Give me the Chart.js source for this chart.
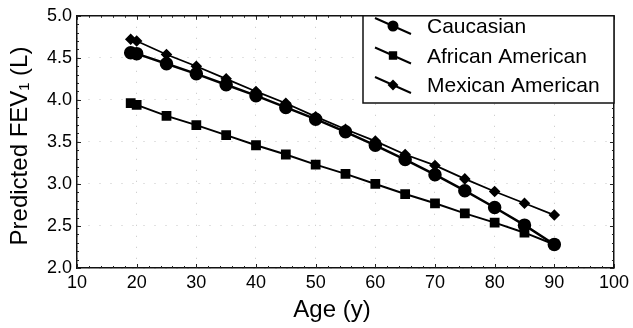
<!DOCTYPE html>
<html lang="en">
<head>
    <meta charset="UTF-8">
    <title>Predicted FEV1 by Age</title>
    <script src="https://cdn.jsdelivr.net/npm/chart.js"></script>
    <style>
        html, body { margin: 0; padding: 0; background: #fff; }
        #wrap { width: 633px; height: 328px; }
    </style>
</head>
<body>
    <div id="wrap"><canvas id="fevChart"></canvas></div>

    <script>
        const ages = [19, 20, 25, 30, 35, 40, 45, 50, 55, 60, 65, 70, 75, 80, 85, 90];
        const caucasian = [4.56, 4.55, 4.43, 4.31, 4.18, 4.05, 3.91, 3.77, 3.62, 3.46, 3.29, 3.11, 2.92, 2.72, 2.51, 2.28];
        const africanAmerican = [3.96, 3.94, 3.81, 3.70, 3.58, 3.46, 3.35, 3.23, 3.12, 3.00, 2.88, 2.77, 2.65, 2.54, 2.42, 2.28];
        const mexicanAmerican = [4.72, 4.70, 4.54, 4.40, 4.25, 4.10, 3.96, 3.80, 3.65, 3.51, 3.35, 3.22, 3.06, 2.91, 2.77, 2.63];
        const seriesNames = ['Caucasian', 'African American', 'Mexican American'];
        const xTitle = 'Age (y)';
        const yTitle = 'Predicted FEV\u2081 (L)';

        const FONT = '"Liberation Sans", Arial, Helvetica, sans-serif';

        function toPoints(values) {
            return values.map((v, i) => ({ x: ages[i], y: v }));
        }

        // legend drawn inside the plot, with the sloped line through the marker
        const insideLegend = {
            id: 'insideLegend',
            afterDraw(chart) {
                const ctx = chart.ctx;
                const area = chart.chartArea;
                const left = 363, top = area.top, right = area.right, bottom = 103;
                const legendRadius = [4.5, 4.5, 4];
                ctx.save();
                ctx.fillStyle = '#fff';
                ctx.fillRect(left, top, right - left, bottom - top);
                ctx.strokeStyle = '#111';
                ctx.lineWidth = 1.5;
                ctx.strokeRect(left, top, right - left, bottom - top);
                chart.data.datasets.forEach((ds, i) => {
                    const cy = 27 + i * 29.5;
                    ctx.beginPath();
                    ctx.strokeStyle = '#000';
                    ctx.lineWidth = 2;
                    ctx.moveTo(375, cy - 9);
                    ctx.lineTo(411, cy + 7);
                    ctx.stroke();
                    ctx.fillStyle = '#000';
                    Chart.helpers.drawPoint(ctx, {
                        pointStyle: ds.pointStyle,
                        radius: legendRadius[i],
                        borderWidth: 1
                    }, 393, cy - 1);
                    ctx.font = '21px ' + FONT;
                    ctx.textBaseline = 'middle';
                    ctx.textAlign = 'left';
                    ctx.fillText(ds.label, 427, cy + 0.5);
                });
                ctx.restore();
            }
        };

        // small inward ticks along all four sides of the box, plus axis titles
        const frameExtras = {
            id: 'frameExtras',
            afterDatasetsDraw(chart) {
                const ctx = chart.ctx;
                const a = chart.chartArea;
                const xs = chart.scales.x, ys = chart.scales.y;
                ctx.save();
                ctx.strokeStyle = '#222';
                ctx.lineWidth = 1;
                ctx.beginPath();
                for (let v = 10; v <= 100; v += 2) {
                    const px = Math.round(xs.getPixelForValue(v)) + 0.5;
                    const len = v % 10 === 0 ? 4 : 2;
                    ctx.moveTo(px, a.bottom); ctx.lineTo(px, a.bottom - len);
                    ctx.moveTo(px, a.top); ctx.lineTo(px, a.top + len);
                }
                for (let k = 20; k <= 50; k += 1) {
                    const py = Math.round(ys.getPixelForValue(k / 10)) + 0.5;
                    const len = k % 5 === 0 ? 4 : 2;
                    ctx.moveTo(a.left, py); ctx.lineTo(a.left + len, py);
                    ctx.moveTo(a.right, py); ctx.lineTo(a.right - len, py);
                }
                ctx.stroke();

                ctx.fillStyle = '#000';
                ctx.font = '24px ' + FONT;
                ctx.textAlign = 'center';
                ctx.textBaseline = 'alphabetic';
                ctx.fillText(xTitle, 332, 317);
                ctx.translate(27, 146);
                ctx.rotate(-Math.PI / 2);
                ctx.fillText(yTitle, 0, 0);
                ctx.restore();
            }
        };

        const gridStyle = { color: '#c4c4c4', lineWidth: 1, drawTicks: false };

        new Chart(document.getElementById('fevChart'), {
            type: 'line',
            data: {
                datasets: [{
                    label: seriesNames[0],
                    data: toPoints(caucasian),
                    borderColor: '#000',
                    backgroundColor: '#000',
                    borderWidth: 2.5,
                    pointStyle: 'circle',
                    pointRadius: 5.5
                }, {
                    label: seriesNames[1],
                    data: toPoints(africanAmerican),
                    borderColor: '#000',
                    backgroundColor: '#000',
                    borderWidth: 2,
                    pointStyle: 'rect',
                    pointRadius: 5.5
                }, {
                    label: seriesNames[2],
                    data: toPoints(mexicanAmerican),
                    borderColor: '#000',
                    backgroundColor: '#000',
                    borderWidth: 1.8,
                    pointStyle: 'rectRot',
                    pointRadius: 4.5
                }]
            },
            options: {
                responsive: true,
                maintainAspectRatio: false,
                animation: false,
                layout: { padding: { top: 13, right: 16, left: 0, bottom: 0 } },
                plugins: {
                    legend: { display: false },
                    tooltip: { enabled: false }
                },
                elements: { line: { tension: 0 }, point: { borderWidth: 1 } },
                scales: {
                    x: {
                        type: 'linear',
                        min: 10,
                        max: 100,
                        ticks: { stepSize: 10, color: '#000', font: { family: FONT, size: 18 }, padding: 4, maxRotation: 0 },
                        grid: gridStyle,
                        border: { display: true, color: '#111', width: 1.5, dash: [1, 10] },
                        afterFit(scale) { scale.height = 60; }
                    },
                    y: {
                        min: 2.0,
                        max: 5.0,
                        ticks: {
                            stepSize: 0.5,
                            color: '#000',
                            font: { family: FONT, size: 18 },
                            padding: 5,
                            callback: v => v.toFixed(1)
                        },
                        grid: gridStyle,
                        border: { display: true, color: '#111', width: 1.5, dash: [1, 10] },
                        afterFit(scale) { scale.width = 77; }
                    },
                    xTop: {
                        type: 'linear', position: 'top', min: 10, max: 100,
                        ticks: { display: false }, grid: { display: false, drawTicks: false },
                        border: { display: true, color: '#111', width: 1.5 },
                        afterFit(scale) { scale.height = 0; }
                    },
                    yRight: {
                        position: 'right', min: 2, max: 5,
                        ticks: { display: false }, grid: { display: false, drawTicks: false },
                        border: { display: true, color: '#111', width: 1.5 },
                        afterFit(scale) { scale.width = 0; }
                    }
                }
            },
            plugins: [frameExtras, insideLegend]
        });
    </script>
</body>
</html>
